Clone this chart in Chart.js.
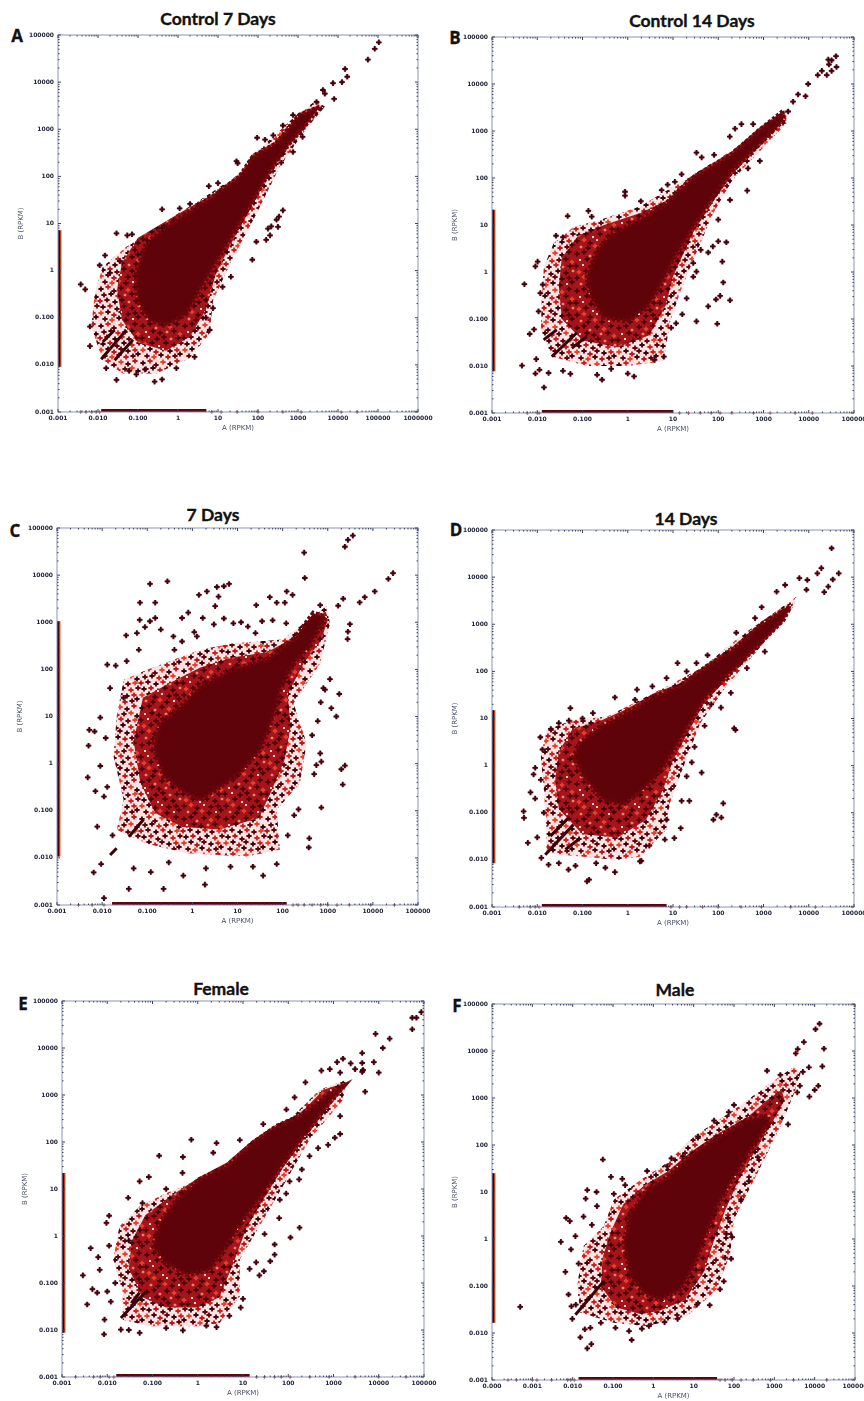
<!DOCTYPE html>
<html lang="en">
<head>
<meta charset="UTF-8">
<title>RPKM scatter panels</title>
<script src="https://cdn.jsdelivr.net/npm/chart.js@4"></script>
<style>
  body { margin: 0; background: #fff; width: 864px; height: 1401px; position: relative; overflow: hidden; }
  canvas { position: absolute; filter: blur(0.5px); }
  .title { position: absolute; font: bold 17.5px Lato, sans-serif; -webkit-text-stroke: 0.35px #111; color: #111; transform: translate(-50%, -50%); white-space: nowrap; }
  .letter { position: absolute; font: bold 17px "Open Sans", sans-serif; -webkit-text-stroke: 0.3px #111; color: #111; transform: translate(-50%, -50%); }
</style>
</head>
<body>
<script>
// tick labels
const yTicks = [0.001, 0.01, 0.1, 1, 10, 100, 1000, 10000, 100000];
const yLabels = ['0.001', '0.010', '0.100', '1', '10', '100', '1000', '10000', '100000'];
const xTicksWide = [0.001, 0.01, 0.1, 1, 10, 100, 1000, 10000, 100000, 1000000];
const xLabelsWide = ['0.001', '0.010', '0.100', '1', '10', '100', '1000', '10000', '100000', '1000000'];
const xTicksShifted = [0.0001, 0.001, 0.01, 0.1, 1, 10, 100, 1000, 10000, 100000];
const xLabelsShifted = ['0.000', '0.001', '0.010', '0.100', '1', '10', '100', '1000', '10000', '100000'];

// Panel A
const aCore = [[3500,2950],[1100,2000],[290,500],[75,260],[35,98],[7.5,37],[1.6,16],[0.51,8.5],[0.16,3.8],[0.09,0.87],[0.1,0.23],[0.19,0.089],[0.51,0.069],[1.6,0.12],[3.5,0.39],[7.5,1.2],[24,6.2],[75,32],[160,98],[510,430],[1600,1300]];
const aMid = [[3500,3300],[1100,2200],[290,560],[75,290],[35,110],[7.5,42],[1.6,20],[0.4,10],[0.1,5],[0.04,1.5],[0.03,0.4],[0.04,0.09],[0.1,0.03],[0.5,0.02],[2,0.04],[5,0.15],[9,0.9],[24,4.5],[75,26],[160,85],[510,380],[1600,1150]];
const aFringe = [[2900,4100],[910,2000],[240,690],[75,300],[35,115],[3.5,31],[0.75,14],[0.19,6.2],[0.051,3.2],[0.013,1.2],[0.0083,0.33],[0.0068,0.065],[0.013,0.0126],[0.042,0.0066],[0.29,0.0066],[1.95,0.0138],[6.2,0.047],[7.5,0.23],[20,1.4],[91,16],[350,160],[1600,1020],[4700,3000]];
const aDots = [[105000,70000],[83000,51000],[56000,30000],[15000,19000],[17000,13000],[12600,10000],[7500,9500],[8000,4400],[4200,6800],[4700,5700],[2900,3800],[29,210],[31,190],[95,660],[150,600],[240,740],[420,1200],[750,2000],[5.9,62],[10,72],[0.4,20],[420,19],[335,14],[290,12],[215,8.7],[316,8.5],[178,7.8],[200,5.6],[160,4.5],[91,4.1],[72,1.7],[21,0.74],[750,330],[380,195],[1300,690],[0.029,6.2],[0.054,5.6],[0.071,5.9],[0.015,2.1],[0.011,1.3],[0.0037,0.51],[0.0048,0.4],[0.0063,0.065],[0.0063,0.025],[0.016,0.0085],[0.029,0.0048],[0.091,0.0063],[0.26,0.0044],[0.4,0.0049],[0.91,0.0085],[2.6,0.0148],[6.2,0.055],[7.5,0.16],[0.02,0.9],[0.035,1.6],[0.1,2.2],[0.17,4.4],[0.4,8],[1.1,21],[2,26],[13,0.45],[5,0.1],[0.06,0.0075],[0.15,0.008]];
const aStreaks = [[0.012,0.0132],[0.051,0.055],[null,null],[0.026,0.0126],[0.075,0.034],[null,null],[0.0133,0.031],[0.026,0.055]];
const aStripY = [0.0091, 7.2];
const aStripX = [0.012, 5.1];
const aBaseX = [0.0037, 0.005, 0.007, 0.009, 0.011, 7, 12, 30, 100, 420, 1200, 12000, 30000];

// Panel B
const bCore = [[2700,2600],[830,1050],[210,330],[55,150],[24,91],[7.2,29],[1.9,13],[0.48,6.6],[0.21,2.9],[0.126,0.79],[0.15,0.3],[0.29,0.11],[0.95,0.089],[2.6,0.17],[5.1,0.49],[10,1.8],[28,9.1],[78,40],[210,150],[830,540],[2700,1700]];
const bMid = [[2900,2800],[830,1200],[210,380],[55,170],[24,105],[7.2,33],[1.9,18],[0.3,10],[0.08,6],[0.035,2],[0.03,0.5],[0.035,0.1],[0.1,0.035],[0.6,0.025],[3,0.045],[7,0.2],[10,0.8],[28,7],[78,32],[210,125],[830,480],[2700,1550]];
const bFringe = [[3200,2750],[210,400],[24,107],[1.9,25],[0.25,13],[0.063,9.1],[0.023,4.1],[0.014,1.3],[0.0126,0.26],[0.012,0.059],[0.021,0.016],[0.126,0.01],[0.95,0.01],[6.2,0.0126],[8.5,0.081],[14,0.35],[28,1.8],[78,18],[210,93],[3200,1450]];
const bDots = [[40000,39000],[32000,32000],[27000,33000],[28000,26000],[41000,23000],[32000,19000],[25000,15500],[19500,19000],[15800,15500],[9700,10000],[8500,5500],[5800,6000],[4500,4200],[3500,2600],[325,1400],[235,1120],[180,760],[590,1400],[830,230],[455,160],[33,345],[43,275],[81,310],[15.5,120],[7.6,72],[11,83],[5.6,55],[0.87,51],[0.87,42],[1.95,32],[0.135,20],[0.047,15.5],[0.16,15],[0.026,5.9],[0.037,5.5],[0.0091,1.32],[0.0102,1.66],[0.0052,0.55],[0.0132,0.54],[0.0117,0.355],[0.0107,0.145],[0.0068,0.048],[0.0085,0.06],[0.0046,0.0102],[0.0095,0.014],[0.0112,0.0083],[0.0091,0.0069],[0.0141,0.0035],[0.0178,0.0071],[0.037,0.0079],[0.054,0.0068],[0.21,0.0065],[0.27,0.0051],[0.43,0.0087],[1,0.0069],[1.38,0.006],[6.3,0.0158],[3.9,0.0135],[11.7,0.081],[16,0.126],[9.1,0.065],[33,0.089],[95,0.079],[60,0.186],[182,0.25],[89,0.26],[110,0.31],[129,0.6],[123,1.66],[20,0.275],[100,4.5],[151,4.3],[76,3.5],[60,2.6],[33,1.02],[28,0.79],[28,1.55],[41,2.95],[436,54],[182,34],[100,13]];
const bStreaks = [[0.021,0.0158],[0.075,0.051],[null,null],[0.058,0.024],[0.126,0.043],[null,null],[0.0138,0.036],[0.027,0.059]];
const bStripY = [0.0077, 21];
const bStripX = [0.0126, 10];
const bBaseX = [0.006, 0.01, 0.011, 14, 22, 40, 70, 110, 200, 600, 1400, 5000, 12000];

// Panel C
const cCore = [[175,430],[45,160],[8.1,100],[1.5,44],[0.54,16],[0.19,7.2],[0.14,2.3],[0.23,0.54],[0.54,0.28],[1.5,0.17],[4.1,0.32],[11,0.63],[32,1.95],[62,10],[87,37],[175,135],[400,310],[870,1300],[480,1550]];
const cMid = [[900,1700],[175,470],[45,230],[8.1,180],[1.5,110],[0.3,50],[0.08,25],[0.05,3],[0.07,0.4],[0.15,0.09],[0.6,0.045],[4,0.04],[30,0.07],[60,0.3],[110,1.2],[150,6],[130,30],[300,140],[700,400],[1000,1100]];
const cFringe = [[940,2200],[100,430],[8.1,360],[1.5,260],[0.38,160],[0.1,98],[0.03,60],[0.021,10],[0.018,1.4],[0.03,0.17],[0.021,0.039],[0.1,0.02],[0.76,0.0126],[16,0.0107],[87,0.0148],[74,0.105],[240,0.38],[340,2.7],[175,19],[680,135],[1120,950]];
const cDots = [[0.115,6500],[0.28,7400],[1.4,3800],[2.1,4500],[3.5,5600],[5,5800],[6.5,6500],[3.8,3500],[3.2,2200],[0.069,2600],[0.15,2600],[0.81,1600],[0.59,1230],[0.068,1120],[0.115,1050],[0.15,1230],[0.089,790],[0.059,590],[0.034,525],[0.065,260],[0.013,126],[0.035,150],[0.015,40],[0.0091,9.5],[0.0052,5.2],[0.0068,4.8],[0.005,2.4],[0.0091,0.89],[0.0048,0.51],[0.013,0.32],[0.0071,0.26],[0.0078,0.046],[0.0065,0.0049],[0.0095,0.0074],[0.039,0.0022],[0.011,0.0014],[0.23,0.0022],[0.63,0.0042],[1.9,0.0027],[37,0.0042],[74,0.0074],[380,0.0166],[390,0.026],[720,0.117],[225,0.107],[2150,0.36],[2000,0.76],[2400,0.91],[720,1.1],[560,0.93],[680,1.65],[1550,10],[1200,15],[1800,30],[1120,62],[870,37],[2750,440],[2800,630],[3100,910],[1700,2240],[2200,3150],[5100,2630],[6600,3400],[11000,4500],[22000,8300],[28000,11000],[3600,69000],[2800,56000],[2400,40000],[300,30000],[310,8700],[123,4500],[166,3800],[52,3400],[26,2300],[74,2600],[112,2600],[680,2300],[17,810],[8.1,950],[25,590],[35,1050],[1.7,1230],[0.38,500],[0.59,390],[1.26,500],[0.2,700],[3,900],[12,1000],[60,1100],[120,950],[0.4,260],[1.1,620],[5,1200],[0.02,120],[0.03,25],[0.012,3.5],[0.011,0.2],[0.017,0.03],[0.05,0.006],[0.12,0.005],[0.3,0.008],[2,0.006],[7,0.0065],[22,0.0065],[130,0.03],[180,0.08],[500,0.6],[600,8],[700,20],[450,4],[800,40]];
const cStreaks = [[0.039,0.028],[0.083,0.065],[null,null],[0.015,0.0115],[0.021,0.016]];
const cStripY = [0.0107, 1050];
const cStripX = [0.0166, 123];
const cBaseX = [0.003, 0.006, 0.011, 170, 220, 300, 450, 700, 1000, 1600, 3000, 9000, 30000];

// Panel D
const dCore = [[3800,2300],[980,1050],[214,290],[55,126],[14,48],[3.7,29],[0.95,13],[0.25,6.8],[0.089,3],[0.063,1.55],[0.105,0.59],[0.29,0.19],[0.79,0.148],[2.2,0.31],[6.2,0.95],[14,3.5],[47,25],[150,78],[830,400],[2700,1230]];
const dMid = [[4500,2800],[980,1200],[214,340],[55,140],[14,55],[3.7,34],[0.95,16],[0.25,9],[0.06,6],[0.03,2],[0.025,0.5],[0.03,0.12],[0.1,0.035],[0.6,0.03],[2.5,0.07],[6,0.3],[10,1.3],[16,3],[47,20],[150,68],[830,350],[2700,1100]];
const dFringe = [[5400,3900],[1620,1700],[300,550],[47,126],[10,56],[1.33,21],[0.35,11],[0.063,9.3],[0.016,5.8],[0.012,1.55],[0.014,0.31],[0.016,0.051],[0.016,0.0138],[0.105,0.0117],[0.58,0.01],[1.86,0.0117],[7.2,0.044],[8.5,0.16],[17,0.95],[40,7.9],[150,48],[1170,470],[4500,2300]];
const dDots = [[32000,41000],[19000,15500],[15500,12000],[46000,12000],[34000,8900],[27000,6300],[22000,4800],[9300,8700],[6200,9500],[8900,5400],[1950,4900],[3000,6800],[910,2300],[650,1350],[250,660],[58,220],[33,150],[12.6,150],[20,100],[7.2,72],[3.5,48],[1.6,41],[1.45,25],[0.52,28],[0.054,16.6],[0.0117,4],[0.0083,0.65],[0.0071,0.27],[0.005,0.107],[0.0051,0.078],[0.0062,0.023],[0.0123,0.011],[0.0178,0.0079],[0.049,0.0062],[0.126,0.0035],[0.14,0.0038],[0.32,0.0068],[0.52,0.0055],[1.86,0.0093],[6.6,0.027],[10.7,0.029],[14.8,0.047],[7.2,0.071],[15.5,0.178],[23,0.178],[43,0.71],[26,1.17],[20,0.59],[224,6.2],[240,5.7],[115,17],[190,35],[78,0.071],[91,0.091],[117,0.079],[129,0.158],[430,117],[1070,263],[0.013,2.2],[0.02,6],[0.03,8],[0.05,9],[0.1,10],[0.17,13],[0.009,0.9],[0.012,0.5],[0.009,0.2],[0.014,0.1],[0.01,0.03],[0.03,0.0085],[0.07,0.0075],[0.2,0.0085],[3,0.02],[2,0.0095],[30,2.5],[50,7],[70,20]];
const dStreaks = [[0.015,0.0129],[0.063,0.056],[null,null],[0.0195,0.032],[0.049,0.078],[null,null],[0.042,0.0166],[0.089,0.029]];
const dStripY = [0.0085, 15];
const dStripX = [0.0126, 7.2];
const dBaseX = [0.004, 0.007, 0.009, 0.011, 9, 14, 20, 45, 100, 320, 900, 4000, 14000];

// Panel E
const eCore = [[830,1100],[178,355],[55,214],[16.6,95],[4.3,30],[1.1,16],[0.34,5.9],[0.145,1.9],[0.102,0.6],[0.2,0.27],[0.56,0.15],[1.8,0.19],[4.3,0.6],[10,2.2],[28,8.1],[76,35],[214,132],[690,575],[1620,1510]];
const eMid = [[1750,1800],[600,1300],[178,390],[55,240],[16.6,110],[4.3,36],[1.1,18],[0.25,7],[0.07,2.8],[0.035,0.8],[0.03,0.2],[0.06,0.05],[0.2,0.03],[1,0.03],[3,0.05],[6,0.25],[12,1.5],[28,6],[76,28],[214,110],[690,480],[1620,1300]];
const eFringe = [[1900,2100],[490,1290],[126,355],[33,155],[8.5,50],[1.55,18.6],[0.2,8.1],[0.052,4.3],[0.0186,1.6],[0.0135,0.32],[0.022,0.062],[0.022,0.0166],[0.087,0.012],[1.1,0.012],[3,0.014],[8.5,0.052],[8.5,0.32],[28,2.2],[76,11.5],[295,112],[1620,790]];
const eDots = [[87000,58000],[68000,44000],[55000,44000],[55000,25000],[8500,20000],[17400,15800],[12300,10000],[4300,7800],[4300,4800],[7800,5000],[10000,3000],[4400,3300],[4500,3400],[4300,3100],[5000,1175],[3000,3550],[2400,4700],[1620,5900],[1200,5000],[540,3300],[830,3550],[1400,3000],[240,1860],[138,890],[1400,355],[1400,148],[1070,123],[760,87],[457,74],[295,50],[200,26],[174,16],[107,14.5],[65,5.9],[63,2.4],[178,1.5],[112,0.93],[50,0.66],[50,0.4],[40,0.29],[19.5,0.275],[29,0.178],[23,0.145],[10,0.046],[8.9,0.03],[2.6,0.0115],[1.55,0.0123],[0.47,0.0098],[0.052,0.0087],[0.02,0.0102],[0.0087,0.0166],[0.0085,0.0081],[0.0036,0.035],[0.0029,0.145],[0.0047,0.074],[0.006,0.062],[0.01,0.066],[0.0068,0.19],[0.0063,0.355],[0.0043,0.55],[0.011,0.62],[0.0096,1.9],[0.011,2.7],[0.029,6.5],[0.052,14.5],[0.083,18],[0.14,51],[0.72,112],[2.6,95],[2.2,59],[0.47,48],[0.46,22],[8.5,110],[28,240],[91,490],[0.03,0.8],[0.06,5],[0.2,10],[0.015,0.1],[0.012,0.04],[0.03,0.01],[0.2,0.011],[5,0.02],[14,0.2],[30,1.1],[90,8]];
const eStreaks = [[0.02,0.018],[0.072,0.066],[null,null],[0.034,0.037],[0.052,0.062]];
const eStripY = [0.0087, 22];
const eStripX = [0.0158, 14];
const eBaseX = [0.002, 0.005, 0.007, 0.011, 0.014, 20, 30, 50, 70, 110, 300, 800, 3000, 10000, 40000];

// Panel F
const fCore = [[660,410],[214,345],[32,130],[8.3,58],[2.2,21],[0.7,11],[0.27,3.5],[0.186,0.83],[0.27,0.16],[0.575,0.071],[1.5,0.051],[4.7,0.085],[10,0.26],[18,0.98],[38,5],[100,21],[257,79],[740,295]];
const fMid = [[1500,1500],[660,900],[214,390],[32,155],[8.3,70],[2.2,27],[0.6,14],[0.18,5.5],[0.09,1.5],[0.055,0.4],[0.05,0.1],[0.12,0.035],[0.5,0.025],[1.5,0.03],[6,0.05],[18,0.2],[30,0.8],[60,4],[130,18],[320,70],[800,260],[1800,900]];
const fFringe = [[3100,4700],[810,2090],[100,560],[10,151],[2.2,42],[0.48,18],[0.105,6.9],[0.059,1.86],[0.0186,0.71],[0.0129,0.1],[0.0155,0.027],[0.105,0.0166],[0.7,0.014],[6.9,0.023],[38,0.085],[81,0.5],[100,2.6],[380,25],[1410,245],[3100,1260],[4500,3400]];
const fDots = [[13200,38000],[10500,29000],[5400,15500],[3800,11000],[3400,8900],[17000,11200],[15500,4700],[7200,4500],[5100,3600],[12300,1820],[10000,1480],[7400,1070],[4300,1820],[3700,1320],[2190,275],[1410,3090],[660,3800],[100,710],[74,500],[32,330],[12.9,151],[5.4,58],[2.8,52],[2.2,35],[0.7,28],[0.056,49],[0.089,21],[0.17,19],[0.023,11],[0.039,10],[0.021,7.2],[0.105,9.1],[0.0069,2.8],[0.0085,2.4],[0.0051,0.87],[0.0066,0.2],[0.0091,0.6],[0.0186,3],[0.0117,1.15],[0.0079,0.066],[0.0093,0.037],[0.0098,0.02],[0.0155,0.0081],[0.023,0.0047],[0.029,0.0058],[0.0275,0.0129],[0.115,0.0129],[0.29,0.0071],[0.52,0.0123],[0.78,0.0141],[1.9,0.017],[25,0.039],[56,0.126],[45,0.085],[85,0.38],[65,1.29],[71,2.8],[234,17],[389,55],[282,29],[0.0005,0.036],[0.014,0.3],[0.012,0.04],[0.03,2],[0.04,5],[0.2,14],[0.02,0.012],[0.05,0.0165],[0.25,0.011],[4,0.02],[12,0.04],[60,0.4],[90,1.1],[150,7]];
const fStreaks = [[0.0117,0.0245],[0.059,0.126]];
const fStripY = [0.0166, 25];
const fStripX = [0.014, 38];
const fBaseX = [0.00025, 0.0004, 0.001, 0.0013, 0.003, 0.0075, 0.009, 0.011, 45, 60, 90, 150, 300, 800, 3000, 20000];

const panels = [
  { title: 'Control 7 Days', letter: 'A', box: [58, 418, 35, 412], tp: [218, 18], lp: [17, 35], xt: xTicksWide, xl: xLabelsWide, core: aCore, mid: aMid, fringe: aFringe, dots: aDots, streaks: aStreaks, sy: aStripY, sx: aStripX, base: aBaseX },
  { title: 'Control 14 Days', letter: 'B', box: [492, 854, 37, 413], tp: [692, 20], lp: [455, 37], xt: yTicks, xl: yLabels, core: bCore, mid: bMid, fringe: bFringe, dots: bDots, streaks: bStreaks, sy: bStripY, sx: bStripX, base: bBaseX },
  { title: '7 Days', letter: 'C', box: [57, 418, 528, 905], tp: [213, 514], lp: [15, 530], xt: yTicks, xl: yLabels, core: cCore, mid: cMid, fringe: cFringe, dots: cDots, streaks: cStreaks, sy: cStripY, sx: cStripX, base: cBaseX },
  { title: '14 Days', letter: 'D', box: [492, 854, 530, 907], tp: [686, 518], lp: [456, 529], xt: yTicks, xl: yLabels, core: dCore, mid: dMid, fringe: dFringe, dots: dDots, streaks: dStreaks, sy: dStripY, sx: dStripX, base: dBaseX },
  { title: 'Female', letter: 'E', box: [62, 424, 1001, 1377], tp: [221, 988], lp: [23, 1003], xt: yTicks, xl: yLabels, core: eCore, mid: eMid, fringe: eFringe, dots: eDots, streaks: eStreaks, sy: eStripY, sx: eStripX, base: eBaseX },
  { title: 'Male', letter: 'F', box: [492, 855, 1004, 1380], tp: [675, 989], lp: [457, 1005], xt: xTicksShifted, xl: xLabelsShifted, core: fCore, mid: fMid, fringe: fFringe, dots: fDots, streaks: fStreaks, sy: fStripY, sx: fStripX, base: fBaseX }
];

const DARK = '#5e0309';
const AXIS_COLOR = '#8d92bd';

function toPoints(pairs) {
  return pairs.map(p => ({ x: p[0], y: p[1] }));
}

// fixed texture of overlapping plus signs for the less dense parts of each cloud
const speckleSpots = [[2,3],[9,1],[15,5],[22,2],[29,4],[36,1],[5,9],[12,8],[19,10],[26,9],[33,8],[39,11],[1,15],[8,14],[16,16],[23,14],[30,16],[37,15],[4,21],[11,20],[18,23],[25,20],[33,22],[40,20],[2,27],[9,26],[15,29],[22,26],[29,28],[36,27],[6,33],[13,34],[20,32],[27,34],[34,33],[39,31]];
const outerInks = [['#3f0208', 2.6], ['#d0201c', 2.6], ['#5e0309', 2.6], ['#e8402c', 2.6], ['#3f0208', 2.6], ['#b8181a', 2.6], ['#5e0309', 2.6]];
const innerInks = [['#4e0208', 2.6], ['#4e0208', 2.6], ['#f0806a', 1.3], ['#4e0208', 2.6], ['#e2402c', 2.2], ['#4e0208', 2.6], ['#ffd8c8', 1]];

function makeSpeckle(base, inks) {
  const tile = document.createElement('canvas');
  tile.width = 42;
  tile.height = 37;
  const c = tile.getContext('2d');
  c.fillStyle = base;
  c.fillRect(0, 0, 42, 37);
  speckleSpots.forEach((s, i) => {
    const [ink, size] = inks[i % inks.length];
    c.strokeStyle = ink;
    c.lineWidth = 1.8;
    [[0, 0], [-42, 0], [42, 0], [0, -37], [0, 37]].forEach(o => {
      const x = s[0] + o[0], y = s[1] + o[1];
      c.beginPath();
      c.moveTo(x - size, y); c.lineTo(x + size, y);
      c.moveTo(x, y - size); c.lineTo(x, y + size);
      c.stroke();
    });
  });
  return c.createPattern(tile, 'repeat');
}
const speckleOuter = makeSpeckle('rgba(220,60,50,0.14)', outerInks);
const speckleInner = makeSpeckle('#a5141b', innerInks);

const framePlugin = {
  id: 'frame',
  afterDatasetsDraw(chart) {
    const { ctx, chartArea: a, scales: { x, y } } = chart;
    ctx.save();
    ctx.strokeStyle = AXIS_COLOR;
    ctx.lineWidth = 1;
    ctx.strokeRect(a.left, a.top, a.width, a.height);
    ctx.strokeStyle = '#3d4163';
    ctx.beginPath();
    x.ticks.forEach(t => {
      for (let k = 1; k < 10; k++) {
        const px = x.getPixelForValue(t.value * k);
        if (px > a.right) break;
        const len = k === 1 ? 3 : 1.5;
        ctx.moveTo(px, a.bottom); ctx.lineTo(px, a.bottom - len);
        ctx.moveTo(px, a.top); ctx.lineTo(px, a.top + len);
      }
    });
    y.ticks.forEach(t => {
      for (let k = 1; k < 10; k++) {
        const py = y.getPixelForValue(t.value * k);
        if (py < a.top) break;
        const len = k === 1 ? 3 : 1.5;
        ctx.moveTo(a.left, py); ctx.lineTo(a.left + len, py);
        ctx.moveTo(a.right, py); ctx.lineTo(a.right - len, py);
      }
    });
    ctx.stroke();
    ctx.restore();
  }
};

function drawPanel(p) {
  const [left, right, top, bottom] = p.box;
  const yWidth = 43, xHeight = 20, padTop = 8, padRight = 24;

  const titleEl = document.createElement('div');
  titleEl.className = 'title';
  titleEl.textContent = p.title;
  titleEl.style.left = p.tp[0] + 'px';
  titleEl.style.top = p.tp[1] + 'px';
  document.body.appendChild(titleEl);
  const letterEl = document.createElement('div');
  letterEl.className = 'letter';
  letterEl.textContent = p.letter;
  letterEl.style.left = p.lp[0] + 'px';
  letterEl.style.top = p.lp[1] + 'px';
  document.body.appendChild(letterEl);

  const canvas = document.createElement('canvas');
  canvas.width = right - left + yWidth + padRight;
  canvas.height = bottom - top + padTop + xHeight;
  canvas.style.left = (left - yWidth) + 'px';
  canvas.style.top = (top - padTop) + 'px';
  document.body.appendChild(canvas);

  const xMin = p.xt[0];
  const xMax = p.xt[p.xt.length - 1];
  const stripV = p.sy.map(v => ({ x: xMin, y: v }));
  const stripH = p.sx.map(v => ({ x: v, y: 0.001 }));
  const base = p.base.map(v => ({ x: v, y: 0.001 }));
  const line = { showLine: true, pointRadius: 0, clip: 0 };

  new Chart(canvas, {
    type: 'scatter',
    data: {
      datasets: [
        // first dataset ends up on top
        { label: 'points', data: toPoints(p.dots), pointStyle: 'cross', pointRadius: 2.8, borderColor: '#3d0410', borderWidth: 1.8, clip: false },
        { label: 'points halo', data: toPoints(p.dots), pointStyle: 'circle', pointRadius: 2.4, backgroundColor: 'rgba(190,30,40,0.5)', borderWidth: 0, clip: false },
        { label: 'baseline', data: base, pointStyle: 'cross', pointRadius: 1.6, borderColor: '#6b2a38', borderWidth: 1, clip: false },
        { label: 'streaks', data: toPoints(p.streaks), ...line, borderColor: '#3a0208', borderWidth: 3, clip: false },
        { label: 'A only', data: stripH, ...line, borderColor: DARK, borderWidth: 6 },
        { label: 'B only', data: stripV, ...line, borderColor: '#3a0208', borderWidth: 4.5 },
        { label: 'B only edge', data: stripV, ...line, borderColor: '#e8561c', borderWidth: 7 },
        { label: 'core', data: toPoints(p.core.concat([p.core[0]])), ...line, fill: 'shape', backgroundColor: DARK, borderColor: '#6e060c', borderWidth: 5, borderDash: [3, 2], clip: false },
        { label: 'mid', data: toPoints(p.mid.concat([p.mid[0]])), ...line, fill: 'shape', backgroundColor: speckleInner, borderWidth: 0, clip: false },
        { label: 'fringe', data: toPoints(p.fringe.concat([p.fringe[0]])), ...line, fill: 'shape', backgroundColor: speckleOuter, borderWidth: 0, clip: false }
      ]
    },
    options: {
      responsive: false,
      animation: false,
      layout: { padding: { top: padTop, right: padRight, left: 0, bottom: 0 } },
      plugins: { legend: { display: false }, tooltip: { enabled: false } },
      scales: {
        x: {
          type: 'logarithmic',
          min: xMin,
          max: xMax,
          afterBuildTicks: s => { s.ticks = p.xt.map(v => ({ value: v })); },
          afterFit: s => { s.height = xHeight; },
          grid: { display: false, drawTicks: false },
          border: { display: false },
          ticks: {
            autoSkip: false, maxRotation: 0, minRotation: 0, padding: 3,
            color: '#23263a',
            font: { family: 'DejaVu Sans', size: 6, weight: 'bold' },
            callback: (v, i) => p.xl[i]
          },
          title: { display: true, text: 'A (RPKM)', color: '#4b5068', font: { family: 'DejaVu Sans', size: 7 }, padding: { top: 1, bottom: 0 } }
        },
        y: {
          type: 'logarithmic',
          min: 0.001,
          max: 100000,
          afterBuildTicks: s => { s.ticks = yTicks.map(v => ({ value: v })); },
          afterFit: s => { s.width = yWidth; },
          grid: { display: false, drawTicks: false },
          border: { display: false },
          ticks: {
            autoSkip: false, padding: 4,
            color: '#23263a',
            font: { family: 'DejaVu Sans', size: 6, weight: 'bold' },
            callback: (v, i) => yLabels[i]
          },
          title: { display: true, text: 'B (RPKM)', color: '#4b5068', font: { family: 'DejaVu Sans', size: 7 }, padding: { top: 2, bottom: 0 } }
        }
      }
    },
    plugins: [framePlugin]
  });
}

panels.forEach(drawPanel);
</script>
</body>
</html>
